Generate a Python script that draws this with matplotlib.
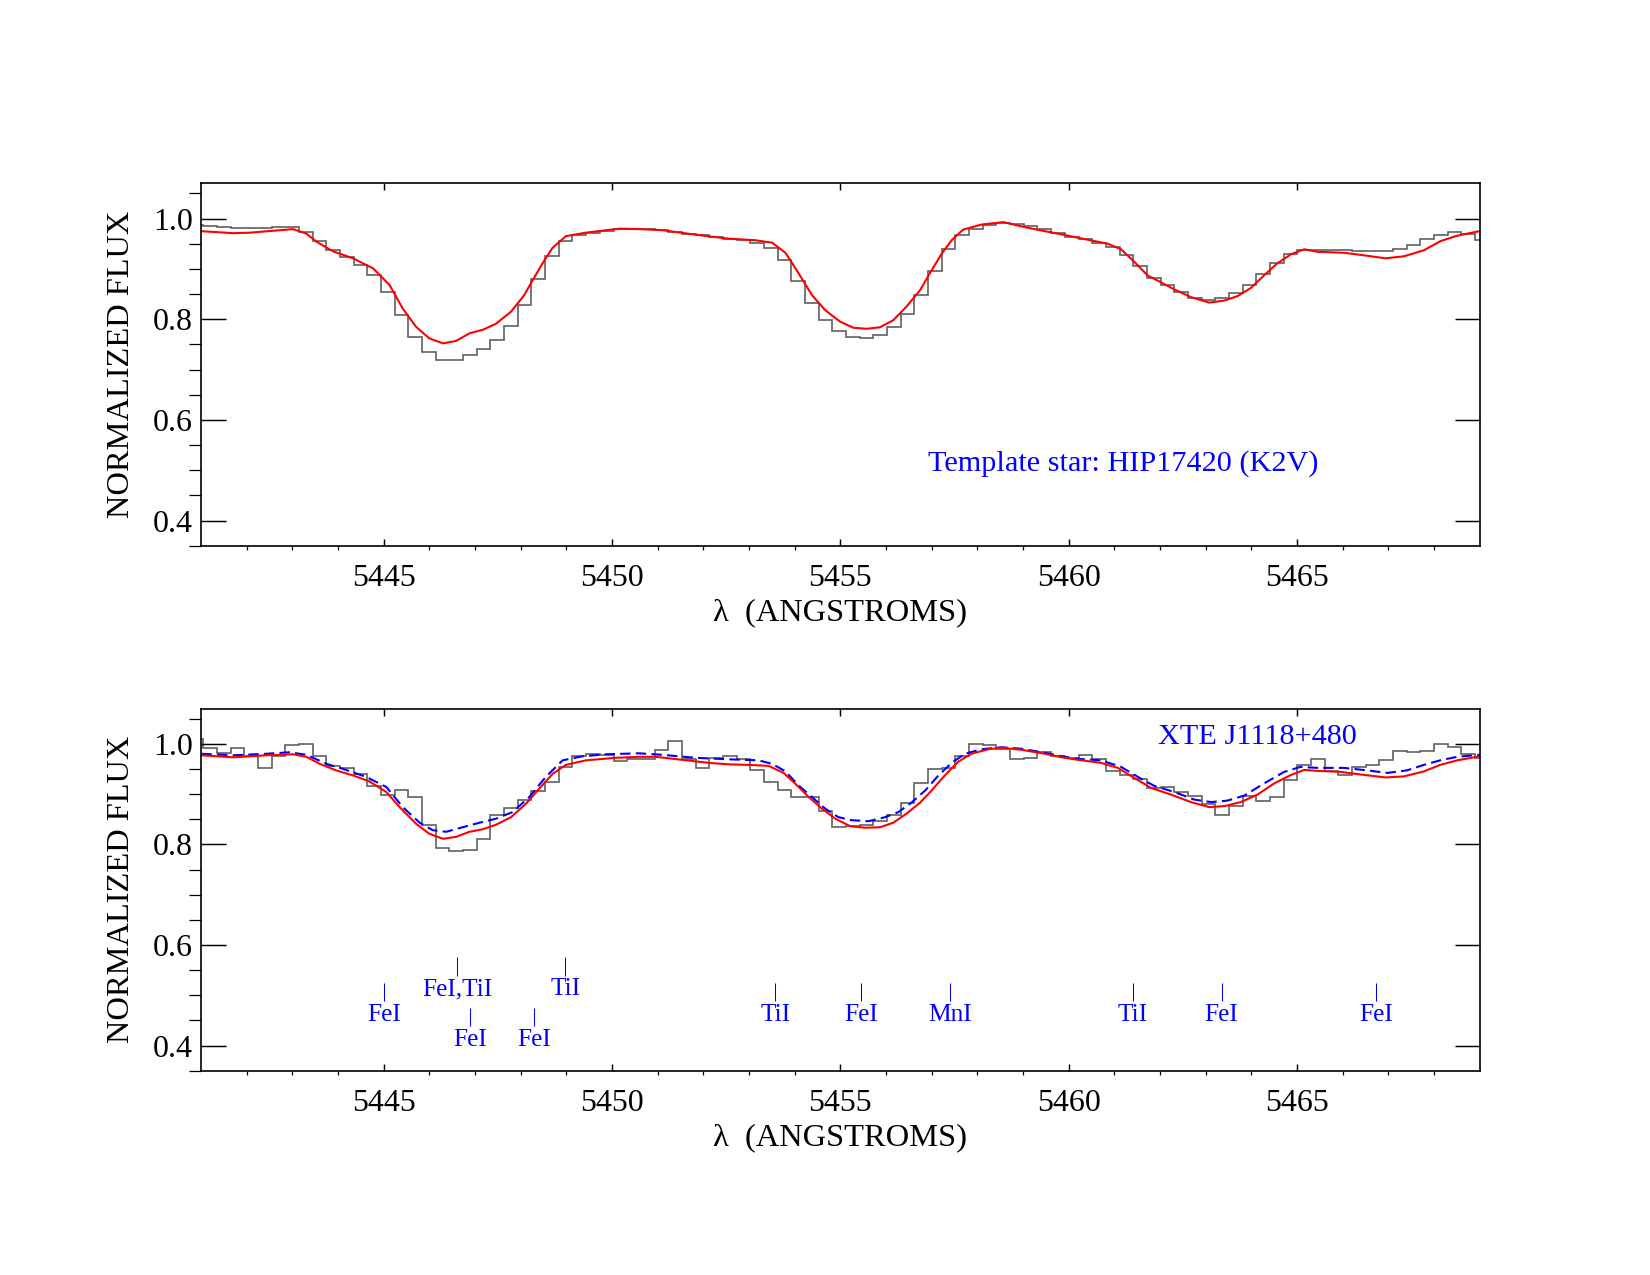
import numpy as np
import matplotlib
matplotlib.use("Agg")
import matplotlib.pyplot as plt

plt.rcParams['font.family'] = ['Liberation Serif', 'DejaVu Serif']
plt.rcParams['mathtext.fontset'] = 'stix'

# binned spectra: bin edges (0.2995 A bins), one value per bin
edge_start = 5440.75
bin_width = 0.2995

# template star HIP17420 (top panel)
template_flux = [0.987, 0.985, 0.983, 0.982, 0.981, 0.982, 0.984, 0.984, 0.974, 0.955,
                 0.937, 0.923, 0.907, 0.887, 0.854, 0.809, 0.764, 0.734, 0.718, 0.718,
                 0.728, 0.740, 0.758, 0.786, 0.829, 0.879, 0.926, 0.956, 0.968, 0.972,
                 0.976, 0.979, 0.979, 0.979, 0.977, 0.974, 0.970, 0.967, 0.963, 0.960,
                 0.958, 0.952, 0.942, 0.917, 0.875, 0.833, 0.799, 0.776, 0.764, 0.762,
                 0.768, 0.784, 0.811, 0.849, 0.895, 0.939, 0.967, 0.980, 0.987, 0.991,
                 0.989, 0.985, 0.979, 0.971, 0.964, 0.960, 0.952, 0.944, 0.928, 0.905,
                 0.882, 0.868, 0.854, 0.843, 0.839, 0.843, 0.852, 0.868, 0.889, 0.911,
                 0.929, 0.938, 0.938, 0.938, 0.938, 0.936, 0.935, 0.936, 0.940, 0.948,
                 0.959, 0.968, 0.974, 0.970, 0.957]

# XTE J1118+480 (bottom panel)
target_flux = [1.010, 0.992, 0.982, 0.992, 0.975, 0.952, 0.975, 0.998, 1.000, 0.975,
               0.955, 0.952, 0.940, 0.915, 0.899, 0.909, 0.894, 0.839, 0.793, 0.786,
               0.789, 0.810, 0.859, 0.873, 0.889, 0.907, 0.924, 0.954, 0.975, 0.979,
               0.977, 0.965, 0.969, 0.969, 0.987, 1.005, 0.970, 0.952, 0.972, 0.975,
               0.970, 0.947, 0.924, 0.909, 0.895, 0.895, 0.866, 0.834, 0.836, 0.838,
               0.846, 0.859, 0.883, 0.921, 0.949, 0.952, 0.975, 0.999, 0.998, 0.990,
               0.970, 0.972, 0.983, 0.975, 0.971, 0.978, 0.970, 0.945, 0.938, 0.929,
               0.913, 0.914, 0.904, 0.896, 0.881, 0.859, 0.877, 0.897, 0.887, 0.894,
               0.928, 0.957, 0.970, 0.945, 0.938, 0.954, 0.957, 0.968, 0.985, 0.983,
               0.985, 0.999, 0.993, 0.980, 0.972]

# red model, top panel
top_model_wave = [5441.00, 5441.71, 5442.07, 5443.02, 5443.31, 5443.53, 5443.89, 5444.33,
                  5444.77, 5445.13, 5445.42, 5445.71, 5446.00, 5446.30, 5446.59, 5446.88,
                  5447.17, 5447.46, 5447.79, 5448.08, 5448.26, 5448.48, 5448.70, 5448.99,
                  5449.43, 5450.16, 5450.59, 5451.10, 5451.83, 5452.56, 5453.14, 5453.51,
                  5453.80, 5454.09, 5454.38, 5454.67, 5455.00, 5455.29, 5455.58, 5455.87,
                  5456.16, 5456.45, 5456.75, 5456.96, 5457.22, 5457.44, 5457.69, 5458.09,
                  5458.57, 5459.04, 5459.48, 5459.99, 5460.20, 5460.86, 5461.15, 5461.44,
                  5461.73, 5462.03, 5462.32, 5462.68, 5463.08, 5463.41, 5463.70, 5463.99,
                  5464.28, 5464.57, 5464.87, 5465.16, 5465.45, 5466.03, 5466.47, 5466.94,
                  5467.34, 5467.78, 5468.14, 5468.51, 5469.00]
top_model_flux = [0.975, 0.971, 0.972, 0.979, 0.970, 0.954, 0.935, 0.921,
                  0.901, 0.868, 0.821, 0.785, 0.762, 0.752, 0.757, 0.772,
                  0.779, 0.791, 0.815, 0.848, 0.877, 0.911, 0.942, 0.965,
                  0.972, 0.980, 0.979, 0.977, 0.968, 0.960, 0.957, 0.952,
                  0.932, 0.891, 0.848, 0.818, 0.795, 0.783, 0.781, 0.784,
                  0.798, 0.825, 0.858, 0.891, 0.930, 0.957, 0.978, 0.988,
                  0.993, 0.983, 0.975, 0.966, 0.962, 0.950, 0.939, 0.914,
                  0.887, 0.873, 0.859, 0.844, 0.833, 0.837, 0.846, 0.862,
                  0.887, 0.911, 0.929, 0.939, 0.934, 0.932, 0.927, 0.921,
                  0.925, 0.937, 0.955, 0.966, 0.975]

# red model, bottom panel
bot_model_wave = [5441.01, 5441.71, 5442.43, 5443.02, 5443.31, 5443.60, 5443.96, 5444.33,
                  5444.69, 5445.06, 5445.35, 5445.71, 5446.00, 5446.30, 5446.59, 5446.88,
                  5447.17, 5447.46, 5447.79, 5448.12, 5448.41, 5448.70, 5448.99, 5449.43,
                  5450.08, 5450.59, 5450.96, 5451.83, 5452.12, 5452.56, 5452.99, 5453.43,
                  5453.76, 5454.01, 5454.31, 5454.60, 5454.89, 5455.22, 5455.54, 5455.87,
                  5456.16, 5456.45, 5456.75, 5457.00, 5457.29, 5457.58, 5457.87, 5458.24,
                  5458.53, 5458.97, 5459.48, 5459.85, 5460.20, 5460.71, 5461.08, 5461.44,
                  5461.81, 5462.24, 5462.68, 5463.08, 5463.41, 5463.77, 5464.14, 5464.50,
                  5464.87, 5465.16, 5465.45, 5465.96, 5466.47, 5466.94, 5467.34, 5467.78,
                  5468.14, 5468.51, 5469.00]
bot_model_flux = [0.977, 0.973, 0.977, 0.979, 0.974, 0.960, 0.947, 0.937,
                  0.925, 0.904, 0.874, 0.841, 0.821, 0.811, 0.815, 0.825,
                  0.830, 0.839, 0.854, 0.881, 0.911, 0.940, 0.958, 0.967,
                  0.972, 0.974, 0.974, 0.965, 0.962, 0.959, 0.958, 0.956,
                  0.942, 0.921, 0.894, 0.871, 0.851, 0.836, 0.833, 0.834,
                  0.843, 0.861, 0.883, 0.907, 0.937, 0.964, 0.980, 0.989,
                  0.992, 0.988, 0.980, 0.973, 0.968, 0.962, 0.952, 0.932,
                  0.912, 0.899, 0.884, 0.874, 0.876, 0.884, 0.899, 0.921,
                  0.938, 0.948, 0.946, 0.944, 0.938, 0.933, 0.935, 0.945,
                  0.958, 0.967, 0.975]

# blue dashed model, bottom panel
alt_model_wave = [5441.01, 5441.71, 5442.43, 5442.94, 5443.31, 5443.75, 5444.11, 5444.62,
                  5445.06, 5445.42, 5445.79, 5446.08, 5446.37, 5446.73, 5447.10, 5447.46,
                  5447.82, 5448.19, 5448.55, 5448.92, 5449.35, 5449.86, 5450.59, 5451.10,
                  5451.83, 5452.56, 5453.21, 5453.51, 5453.80, 5454.09, 5454.38, 5454.67,
                  5454.96, 5455.25, 5455.62, 5455.98, 5456.27, 5456.56, 5456.86, 5457.15,
                  5457.44, 5457.73, 5458.09, 5458.53, 5458.97, 5459.48, 5459.85, 5460.20,
                  5460.71, 5461.15, 5461.52, 5461.88, 5462.32, 5462.75, 5463.12, 5463.48,
                  5463.85, 5464.28, 5464.72, 5465.08, 5465.45, 5466.03, 5466.54, 5466.98,
                  5467.41, 5467.78, 5468.14, 5468.51, 5469.00]
alt_model_flux = [0.980, 0.977, 0.980, 0.983, 0.978, 0.960, 0.950, 0.934,
                  0.914, 0.874, 0.843, 0.828, 0.825, 0.834, 0.843, 0.851,
                  0.864, 0.894, 0.934, 0.967, 0.975, 0.979, 0.981, 0.978,
                  0.972, 0.969, 0.967, 0.960, 0.945, 0.917, 0.894, 0.871,
                  0.854, 0.848, 0.846, 0.854, 0.864, 0.883, 0.907, 0.937,
                  0.962, 0.980, 0.989, 0.993, 0.990, 0.982, 0.975, 0.970,
                  0.967, 0.954, 0.934, 0.916, 0.904, 0.889, 0.884, 0.887,
                  0.897, 0.921, 0.944, 0.954, 0.952, 0.952, 0.947, 0.942,
                  0.947, 0.958, 0.967, 0.974, 0.978]

# line identifications: wavelength, label, row (0 upper, 1 middle, 2 lower)
line_wave = [5445.01, 5446.61, 5446.90, 5448.30, 5448.98, 5453.58, 5455.46,
             5457.41, 5461.41, 5463.35, 5466.74]
line_name = ['FeI', 'FeI,TiI', 'FeI', 'FeI', 'TiI', 'TiI', 'FeI',
             'MnI', 'TiI', 'FeI', 'FeI']
line_row = [1, 0, 2, 2, 0, 1, 1, 1, 1, 1, 1]
row_baseline = [0.500, 0.449, 0.399]

edges = edge_start + bin_width * np.arange(len(template_flux) + 1)

fig = plt.figure(figsize=(11, 8.5), dpi=150)
ax1 = fig.add_axes([0.1218, 0.572, 0.7749, 0.2842])
ax2 = fig.add_axes([0.1218, 0.1602, 0.7749, 0.2841])

for ax in (ax1, ax2):
    ax.set_xlim(5441.0, 5469.0)
    ax.set_ylim(0.35, 1.07)
    ax.set_xticks([5445, 5450, 5455, 5460, 5465])
    ax.set_xticks(np.arange(5442, 5469, 1), minor=True)
    ax.set_yticks([0.4, 0.6, 0.8, 1.0])
    ax.set_yticks(np.arange(0.35, 1.07, 0.05), minor=True)
    ax.set_yticklabels(['0.4', '0.6', '0.8', '1.0'])
    ax.tick_params(direction='in', top=True, right=True, labelsize=15.3, width=0.7)
    ax.tick_params(axis='x', which='major', length=3.4, pad=9)
    ax.tick_params(axis='x', which='minor', length=1.7)
    ax.tick_params(axis='y', which='major', length=12, pad=4)
    ax.tick_params(axis='y', which='minor', length=6)
    for s in ax.spines.values():
        s.set_linewidth(0.8)
    ax.text(0.5, -0.186, '\u03bb  (ANGSTROMS)', transform=ax.transAxes,
            ha='center', va='center', fontsize=15.6)
    ax.text(-0.0625, 0.5, 'NORMALIZED FLUX', transform=ax.transAxes,
            ha='center', va='center', rotation=90, fontsize=15.6)

# top panel: template star
ax1.stairs(template_flux, edges, baseline=None, color='#606060', lw=0.8)
ax1.plot(top_model_wave, top_model_flux, color='red', lw=1.0)
ax1.text(5461.2, 0.514, 'Template star: HIP17420 (K2V)', color='blue',
         fontsize=14.5, ha='center', va='center')

# bottom panel: XTE J1118+480
ax2.stairs(target_flux, edges, baseline=None, color='#606060', lw=0.8)
ax2.plot(alt_model_wave, alt_model_flux, color='blue', lw=1.0, ls=(0, (5, 2.5)))
ax2.plot(bot_model_wave, bot_model_flux, color='red', lw=1.0)
ax2.text(5464.13, 1.014, 'XTE J1118+480', color='blue', fontsize=14.5,
         ha='center', va='center')

for w, name, row in zip(line_wave, line_name, line_row):
    b = row_baseline[row]
    ax2.vlines(w, b + 0.039, b + 0.076, color='blue', lw=0.5)
    ax2.text(w, b, name, color='blue', fontsize=12.2, ha='center', va='baseline')

fig.savefig('out.png', dpi=150)
